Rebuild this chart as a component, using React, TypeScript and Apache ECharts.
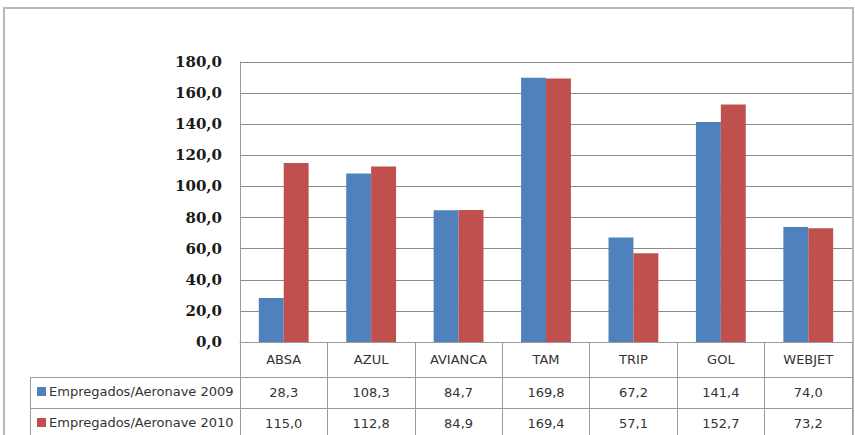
import React, { useEffect, useRef } from "react";
import * as echarts from "echarts";

const categories = ["ABSA", "AZUL", "AVIANCA", "TAM", "TRIP", "GOL", "WEBJET"];
const series2009 = [28.3, 108.3, 84.7, 169.8, 67.2, 141.4, 74.0];
const series2010 = [115.0, 112.8, 84.9, 169.4, 57.1, 152.7, 73.2];
const seriesNames = ["Empregados/Aeronave 2009", "Empregados/Aeronave 2010"];
const colors = ["#4F81BD", "#C0504D"];
const yMin = 0;
const yMax = 180;
const yInterval = 20;

const fmt = (v: number) => v.toFixed(1).replace(".", ",");

const tableFont = { fontFamily: "DejaVu Sans", fontSize: 13, color: "#333333" };
const lineColor = "#9a9a9a";

export default function App() {
  const ref = useRef<HTMLDivElement>(null);
  useEffect(() => {
    if (!ref.current) return;
    const chart = echarts.init(ref.current, undefined, { renderer: "svg" });
    const rowGrid = (top: number) => ({ left: 240, right: 3, top, height: 1 });
    const rowAxis = (gridIndex: number, vals: number[]) => ({
      type: "category",
      gridIndex,
      data: vals.map(fmt),
      position: "bottom",
      axisLine: { show: false },
      axisTick: { show: false },
      axisLabel: { ...tableFont, margin: 8, interval: 0 },
    });
    const legendItem = (name: string, top: number) => ({
      data: [name],
      left: 37,
      top,
      padding: 0,
      itemWidth: 9,
      itemHeight: 9,
      itemGap: 4,
      icon: "rect",
      textStyle: { ...tableFont, padding: [0, 0, 0, -2] },
    });
    chart.setOption({
      animation: false,
      backgroundColor: "#ffffff",
      grid: [
        { left: 240, right: 3, top: 62, bottom: 93 },
        rowGrid(377),
        rowGrid(408),
      ],
      legend: [legendItem(seriesNames[0], 385), legendItem(seriesNames[1], 416)],
      xAxis: [
        {
          type: "category",
          gridIndex: 0,
          data: categories,
          axisLine: { show: true, lineStyle: { color: lineColor, width: 1 } },
          axisTick: {
            show: true,
            alignWithLabel: false,
            interval: 0,
            length: 95,
            lineStyle: { color: lineColor, width: 1 },
          },
          axisLabel: { ...tableFont, margin: 11, interval: 0 },
        },
        rowAxis(1, series2009),
        rowAxis(2, series2010),
      ],
      yAxis: [
        {
          type: "value",
          gridIndex: 0,
          min: yMin,
          max: yMax,
          interval: yInterval,
          axisLine: { show: true, lineStyle: { color: lineColor } },
          axisTick: { show: false },
          splitLine: { lineStyle: { color: "#8a8a8a", width: 1 } },
          axisLabel: {
            formatter: (v: number) => fmt(v),
            fontFamily: "DejaVu Serif",
            fontWeight: "bold",
            fontSize: 15,
            color: "#1a1a1a",
            margin: 18,
          },
        },
        { type: "value", gridIndex: 1, show: false },
        { type: "value", gridIndex: 2, show: false },
      ],
      series: [
        {
          name: seriesNames[0],
          type: "bar",
          data: series2009,
          itemStyle: { color: colors[0] },
          barGap: "0%",
          barCategoryGap: "43%",
        },
        {
          name: seriesNames[1],
          type: "bar",
          data: series2010,
          itemStyle: { color: colors[1] },
          barGap: "0%",
          barCategoryGap: "43%",
        },
      ],
      graphic: [
        {
          type: "rect",
          shape: { x: 4, y: 8, width: 849, height: 440 },
          style: { fill: "none", stroke: "#b8b8b8", lineWidth: 2 },
          silent: true,
        },
        {
          type: "line",
          shape: { x1: 30, y1: 377.5, x2: 852, y2: 377.5 },
          style: { stroke: lineColor, lineWidth: 1 },
        },
        {
          type: "line",
          shape: { x1: 30, y1: 408.5, x2: 852, y2: 408.5 },
          style: { stroke: lineColor, lineWidth: 1 },
        },
        {
          type: "line",
          shape: { x1: 30.5, y1: 377, x2: 30.5, y2: 440 },
          style: { stroke: lineColor, lineWidth: 1 },
        },
      ],
    });
    return () => chart.dispose();
  }, []);
  return (
    <div
      ref={ref}
      style={{ position: "absolute", left: 0, top: 0, width: 855, height: 435 }}
    />
  );
}
